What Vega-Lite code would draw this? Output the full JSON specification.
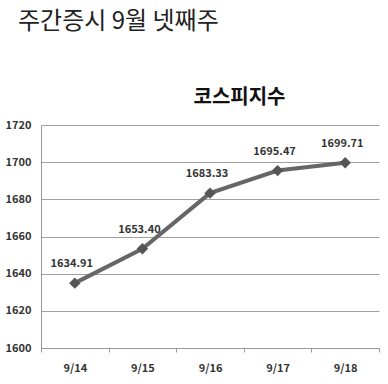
{
  "$schema": "https://vega.github.io/schema/vega-lite/v6.json",
  "width": 388,
  "height": 384,
  "autosize": {"type": "fit", "contains": "padding"},
  "padding": {"left": 5, "right": 8, "top": 10, "bottom": 11},
  "background": "white",
  "title": {
    "text": "주간증시 9월 넷째주",
    "anchor": "start",
    "frame": "bounds",
    "dx": 13,
    "offset": 53,
    "font": "Noto Sans CJK KR",
    "fontSize": 24,
    "fontWeight": "normal",
    "color": "#222222"
  },
  "config": {
    "view": {"stroke": null},
    "font": "Noto Sans CJK KR"
  },
  "data": {
    "values": [
      {"date": "9/14", "value": 1634.91, "label": "1634.91"},
      {"date": "9/15", "value": 1653.40, "label": "1653.40"},
      {"date": "9/16", "value": 1683.33, "label": "1683.33"},
      {"date": "9/17", "value": 1695.47, "label": "1695.47"},
      {"date": "9/18", "value": 1699.71, "label": "1699.71"}
    ]
  },
  "encoding": {
    "x": {
      "field": "date",
      "type": "ordinal",
      "sort": null,
      "scale": {"type": "band", "paddingInner": 0, "paddingOuter": 0},
      "axis": {
        "title": null,
        "labelAngle": 0,
        "labelFont": "Noto Sans CJK KR",
        "labelFontSize": 11,
        "labelFontWeight": "bold",
        "labelColor": "#333333",
        "labelPadding": 10,
        "tickBand": "extent",
        "tickSize": 4,
        "tickColor": "#999999",
        "domainColor": "#999999",
        "grid": false
      }
    },
    "y": {
      "field": "value",
      "type": "quantitative",
      "scale": {"domain": [1600, 1720], "nice": false, "zero": false},
      "axis": {
        "values": [1600, 1620, 1640, 1660, 1680, 1700, 1720],
        "format": "d",
        "title": "코스피지수",
        "titleAngle": 0,
        "titleX": 198,
        "titleY": -28,
        "titleAlign": "center",
        "titleBaseline": "middle",
        "titleFont": "Noto Sans CJK KR",
        "titleFontSize": 20,
        "titleFontWeight": "bold",
        "titleColor": "#111111",
        "labelFont": "Noto Sans CJK KR",
        "labelFontSize": 11,
        "labelFontWeight": "bold",
        "labelColor": "#333333",
        "labelPadding": 10,
        "ticks": false,
        "domainColor": "#999999",
        "grid": true,
        "gridColor": "#a0a0a0",
        "gridWidth": 1
      }
    }
  },
  "layer": [
    {"mark": {"type": "line", "color": "#666666", "strokeWidth": 4}},
    {"mark": {"type": "point", "shape": "diamond", "filled": true, "size": 130, "color": "#555555", "opacity": 1}},
    {
      "mark": {"type": "text", "dy": -19, "dx": -3, "fontSize": 11, "fontWeight": "bold", "color": "#333333", "font": "Noto Sans CJK KR"},
      "encoding": {"text": {"field": "label", "type": "nominal"}}
    }
  ]
}
